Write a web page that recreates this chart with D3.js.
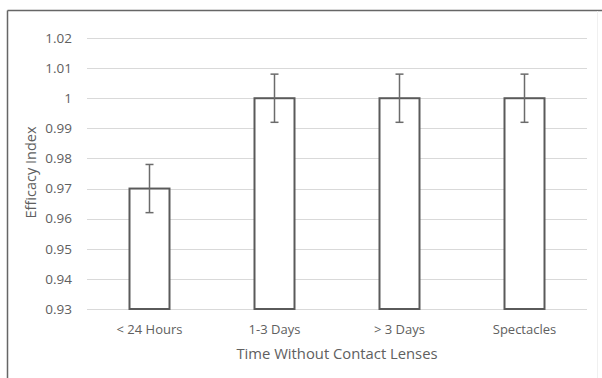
<!DOCTYPE html>
<html>
<head>
<meta charset="utf-8">
<script src="https://cdn.jsdelivr.net/npm/d3@7"></script>
<style>
  body { margin: 0; background: #fff; }
  svg { display: block; font-family: "Open Sans", sans-serif; }
</style>
</head>
<body>
<svg id="chart" width="602" height="378"></svg>
<script>
// data
const categories = ['< 24 Hours', '1-3 Days', '> 3 Days', 'Spectacles']
const values = [0.97, 1, 1, 1]
const errors = [0.008, 0.008, 0.008, 0.008]
const yTicks = [0.93, 0.94, 0.95, 0.96, 0.97, 0.98, 0.99, 1, 1.01, 1.02]

const svg = d3.select('#chart')
const W = 602, H = 378
const margin = {left: 87, right: 15, top: 38, bottom: 69}

// outer frame: dark top and left, the right edge barely visible
svg.append('line')
  .attr('x1', 7.5).attr('x2', 602).attr('y1', 10.5).attr('y2', 10.5)
  .attr('stroke', '#666').attr('stroke-width', 1.5)
svg.append('line')
  .attr('x1', 7.5).attr('x2', 7.5).attr('y1', 10.5).attr('y2', 378)
  .attr('stroke', '#666').attr('stroke-width', 1.5)
svg.append('line')
  .attr('x1', 597.5).attr('x2', 597.5).attr('y1', 11).attr('y2', 378)
  .attr('stroke', '#f0f0f0').attr('stroke-width', 1)

const x = d3.scaleBand()
  .domain(categories)
  .range([margin.left, W - margin.right])
  .paddingInner(0.68)
  .paddingOuter(0.34)

const y = d3.scaleLinear()
  .domain([0.93, 1.02])
  .range([H - margin.bottom, margin.top])

// gridlines
svg.append('g')
  .selectAll('line')
  .data(yTicks)
  .join('line')
  .attr('x1', margin.left).attr('x2', W - margin.right)
  .attr('y1', d => Math.round(y(d)) + 0.5).attr('y2', d => Math.round(y(d)) + 0.5)
  .attr('stroke', '#d9d9d9').attr('stroke-width', 1)

// y tick labels
svg.append('g')
  .selectAll('text')
  .data(yTicks)
  .join('text')
  .attr('x', 72).attr('y', d => y(d))
  .attr('dy', '0.35em')
  .attr('text-anchor', 'end')
  .attr('font-size', 13.5)
  .attr('fill', '#606060')
  .text(d => d3.format('')(+d.toFixed(2)))

// bars
svg.append('g')
  .selectAll('rect')
  .data(values)
  .join('rect')
  .attr('x', (d, i) => x(categories[i]))
  .attr('y', d => y(d))
  .attr('width', x.bandwidth())
  .attr('height', d => y(0.93) - y(d))
  .attr('fill', '#fff')
  .attr('stroke', '#5a5a5a')
  .attr('stroke-width', 2)

// error bars
const eb = svg.append('g').attr('stroke', '#6b6b6b').attr('stroke-width', 1.5)
values.forEach((v, i) => {
  const cx = x(categories[i]) + x.bandwidth() / 2
  const top = y(v + errors[i]), bot = y(v - errors[i])
  eb.append('line').attr('x1', cx).attr('x2', cx).attr('y1', top).attr('y2', bot)
  eb.append('line').attr('x1', cx - 4).attr('x2', cx + 4).attr('y1', top).attr('y2', top)
  eb.append('line').attr('x1', cx - 4).attr('x2', cx + 4).attr('y1', bot).attr('y2', bot)
})

// x labels
svg.append('g')
  .selectAll('text')
  .data(categories)
  .join('text')
  .attr('x', d => x(d) + x.bandwidth() / 2)
  .attr('y', 329)
  .attr('dy', '0.35em')
  .attr('text-anchor', 'middle')
  .attr('font-size', 13)
  .attr('fill', '#606060')
  .text(d => d)

// axis titles
svg.append('text')
  .attr('x', (margin.left + W - margin.right) / 2).attr('y', 354)
  .attr('dy', '0.35em')
  .attr('text-anchor', 'middle')
  .attr('font-size', 14.8)
  .attr('fill', '#606060')
  .text('Time Without Contact Lenses')

svg.append('text')
  .attr('transform', 'translate(31, 172.5) rotate(-90)')
  .attr('dy', '0.35em')
  .attr('text-anchor', 'middle')
  .attr('font-size', 14.5)
  .attr('fill', '#606060')
  .text('Efficacy Index')
</script>
</body>
</html>
